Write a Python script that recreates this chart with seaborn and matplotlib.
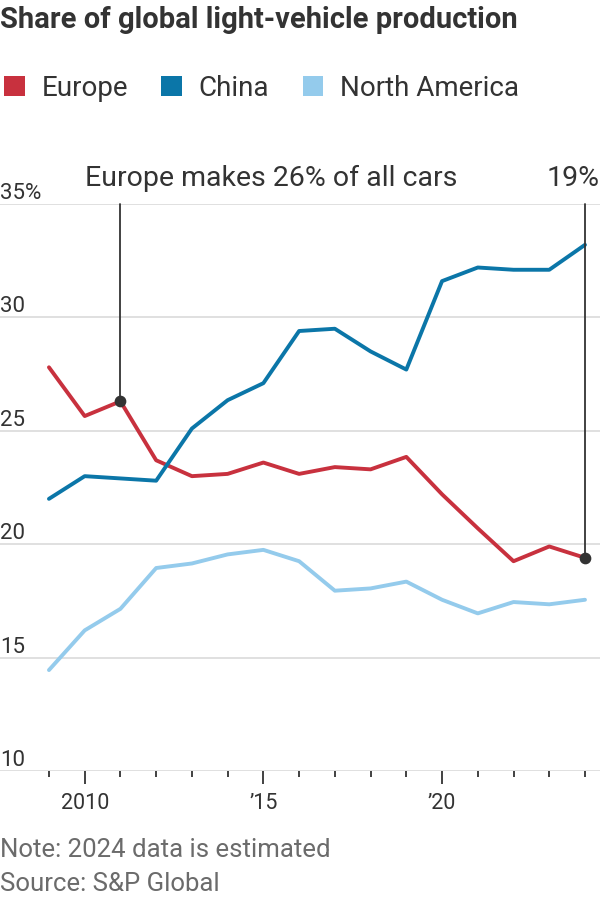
import matplotlib
matplotlib.use("Agg")
import matplotlib.pyplot as plt
import matplotlib.transforms as mtransforms
from matplotlib.patches import Patch
import seaborn as sns
import pandas as pd

years = list(range(2009, 2025))
europe = [27.8, 25.65, 26.3, 23.7, 23.0, 23.1, 23.6, 23.1, 23.4, 23.3, 23.85, 22.2, 20.7, 19.25, 19.9, 19.4]
china = [22.0, 23.0, 22.9, 22.8, 25.1, 26.35, 27.1, 29.4, 29.5, 28.5, 27.7, 31.6, 32.2, 32.1, 32.1, 33.2]
north_america = [14.45, 16.2, 17.15, 18.95, 19.15, 19.55, 19.75, 19.25, 17.95, 18.05, 18.35, 17.55, 16.95, 17.45, 17.35, 17.55]
series_names = ["Europe", "China", "North America"]
colors = ["#c8313e", "#0b76a8", "#94cbec"]
y_ticks = [10, 15, 20, 25, 30, 35]
y_labels = ["10", "15", "20", "25", "30", "35%"]
x_major = [2010, 2015, 2020]
x_labels = ["2010", "\u201915", "\u201920"]

df = pd.DataFrame({
    "year": years * 3,
    "share": europe + china + north_america,
    "region": [series_names[0]] * len(years) + [series_names[1]] * len(years) + [series_names[2]] * len(years),
})

sns.set_theme(style="white")
plt.rcParams["font.family"] = ["Roboto", "DejaVu Sans"]
dark = "#333333"
grid = "#dddddd"

fig = plt.figure(figsize=(6, 9), dpi=100)
ax = fig.add_axes([0, 1 - 771 / 900, 1, (771 - 204) / 900])

for y in y_ticks:
    ax.axhline(y, color=grid, lw=1.3, zorder=0)

sns.lineplot(data=df, x="year", y="share", hue="region", hue_order=series_names,
             palette=colors, linewidth=2.8, ax=ax, legend=False, zorder=3)

ax.set_xlim(2007.63, 2024.42)
ax.set_ylim(10, 35)
for s in ax.spines.values():
    s.set_visible(False)
ax.set_xlabel("")
ax.set_ylabel("")
ax.set_yticks([])
ax.set_xticks(x_major)
ax.set_xticklabels(x_labels, fontsize=15.5, color=dark)
ax.set_xticks(years, minor=True)
ax.tick_params(axis="x", which="major", length=9, width=1.3, color=dark, pad=7, direction="out", bottom=True)
ax.tick_params(axis="x", which="minor", length=4, width=1.3, color=dark, direction="out", bottom=True)

trans = mtransforms.blended_transform_factory(ax.transAxes, ax.transData)
for y, lab in zip(y_ticks, y_labels):
    ax.text(0.0, y, lab, transform=trans, ha="left", va="bottom", fontsize=16,
            color=dark)

# annotations
i1 = years.index(2011)
i2 = years.index(2024)
for i in (i1, i2):
    ax.plot([years[i], years[i]], [europe[i], 35], color=dark, lw=1.3, zorder=4, clip_on=False)
    ax.scatter([years[i]], [europe[i]], s=55, color=dark, zorder=5, clip_on=False)
ax.text(years[i1] - 1.0, 35.55, "Europe makes 26% of all cars", fontsize=20.5, color=dark,
        ha="left", va="bottom")
ax.text(2024.4, 35.55, "19%", fontsize=20.5, color=dark, ha="right", va="bottom")

fig.text(0.0, 1 - 20 / 900, "Share of global light-vehicle production", fontsize=21,
         fontweight="bold", color=dark, ha="left", va="center")

handles = [Patch(facecolor=c, edgecolor="none") for c in colors]
fig.legend(handles, series_names, loc="center left", bbox_to_anchor=(-0.035, 1 - 88 / 900),
           ncol=3, frameon=False, fontsize=20, handlelength=0.75, handleheight=0.75,
           handletextpad=0.6, columnspacing=1.2, labelcolor=dark)

fig.text(0.0, 1 - 850 / 900, "Note: 2024 data is estimated", fontsize=18.5, color="#6b6b6b",
         ha="left", va="center")
fig.text(0.0, 1 - 884 / 900, "Source: S&P Global", fontsize=18.5, color="#6b6b6b",
         ha="left", va="center")

fig.savefig("out.png", dpi=100)
